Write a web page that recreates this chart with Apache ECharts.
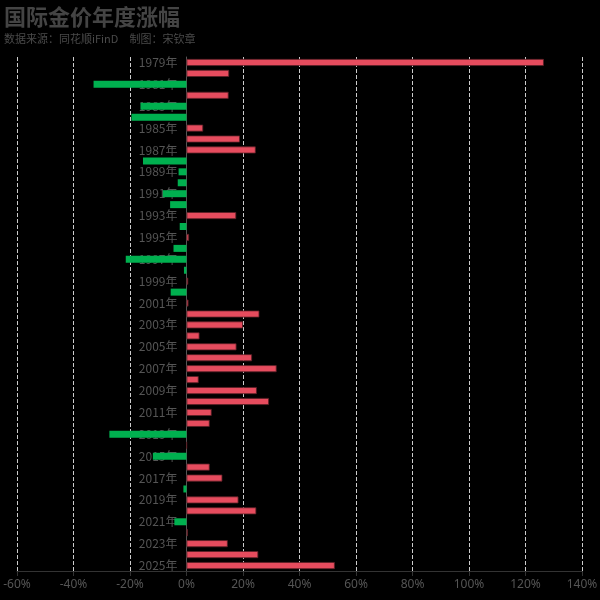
<!DOCTYPE html>
<html>
<head>
<meta charset="utf-8">
<script src="https://cdn.jsdelivr.net/npm/echarts@6/dist/echarts.min.js"></script>
<style>html,body{margin:0;padding:0;background:#000;}#c{width:600px;height:600px;}</style>
</head>
<body>
<div id="c"></div>
<script>
const years = [];
for (let y = 1979; y <= 2025; y++) years.push(y + '年');
const changes = [126.5, 15.1, -32.9, 14.9, -16.3, -19.5, 5.9, 18.9, 24.5, -15.4,
  -2.8, -3.1, -8.4, -5.8, 17.6, -2.4, 0.9, -4.6, -21.5, -0.9,
  0.6, -5.6, 0.7, 25.8, 20.0, 4.6, 17.7, 23.2, 31.9, 4.3,
  24.9, 29.2, 8.9, 8.2, -27.3, 0.1, -11.9, 8.2, 12.7, -1.1,
  18.4, 24.7, -4.3, 0.5, 14.6, 25.4, 52.5];
const xTicks = [-60, -40, -20, 0, 20, 40, 60, 80, 100, 120, 140];
const titleText = '国际金价年度涨幅';
const subText = '数据来源：同花顺iFinD　制图：宋钦章';

const W = 600, gridLeft = 17, gridRight = 18;
const xMin = xTicks[0], xMax = xTicks[xTicks.length - 1];
const zeroOffset = -(W - gridLeft - gridRight) * (0 - xMin) / (xMax - xMin);

const chart = echarts.init(document.getElementById('c'));
chart.setOption({
  backgroundColor: '#000',
  animation: false,
  title: {
    text: titleText,
    subtext: subText,
    left: -1, top: 1,
    itemGap: 5,
    textStyle: {color: '#444', fontSize: 22, fontWeight: 'bold', fontFamily: 'Noto Sans CJK SC'},
    subtextStyle: {color: '#4a4a4a', fontSize: 11, fontFamily: 'Noto Sans CJK SC'}
  },
  grid: {left: gridLeft, right: gridRight, top: 57, bottom: 29, containLabel: false, outerBoundsMode: 'none'},
  xAxis: {
    type: 'value',
    min: xMin, max: xMax, interval: 20,
    axisLine: {show: true, lineStyle: {color: '#333'}},
    axisTick: {show: true, lineStyle: {color: '#333'}},
    axisLabel: {color: '#555', fontSize: 12, fontFamily: 'Noto Sans', formatter: v => v + '%'},
    splitLine: {show: true, lineStyle: {color: '#ccc', type: 'dashed', width: 1}}
  },
  yAxis: {
    type: 'category',
    data: years,
    inverse: true,
    position: 'left',
    offset: zeroOffset,
    axisLine: {show: true, onZero: false, lineStyle: {color: '#555'}},
    axisTick: {show: false},
    axisLabel: {color: '#555', fontSize: 12, interval: 1, margin: 9, fontFamily: 'Noto Sans CJK SC'},
    splitLine: {show: false}
  },
  series: [{
    type: 'bar',
    barWidth: '64%',
    data: changes.map(v => ({
      value: v,
      itemStyle: v >= 0
        ? {color: '#e64c5e', borderColor: '#5a1f26', borderWidth: 0.8}
        : {color: '#00b04f', borderWidth: 0}
    }))
  }]
});
</script>
</body>
</html>
